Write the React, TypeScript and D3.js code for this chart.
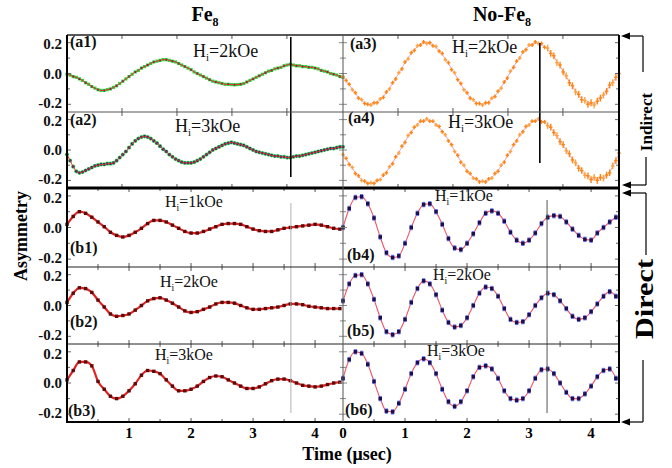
import React from "react";
import * as d3 from "d3";

// ---------- data ----------
const aTimes = d3.range(90).map((i) => i * 0.0564); // µs, indirect panels
const bTimes = d3.range(45).map((i) => i * 0.1); // µs, direct panels

const a1Fe8 = [
  -0.005, -0.01, -0.02, -0.025, -0.035, -0.045, -0.06, -0.07, -0.085, -0.095,
  -0.105, -0.11, -0.11, -0.105, -0.1, -0.09, -0.08, -0.065, -0.05, -0.035,
  -0.02, -0.005, 0.01, 0.02, 0.035, 0.045, 0.055, 0.065, 0.075, 0.08,
  0.085, 0.09, 0.09, 0.085, 0.08, 0.075, 0.065, 0.055, 0.045, 0.035,
  0.025, 0.01, 0.0, -0.01, -0.02, -0.03, -0.04, -0.05, -0.055, -0.06,
  -0.065, -0.07, -0.07, -0.072, -0.073, -0.072, -0.07, -0.065, -0.055, -0.045,
  -0.035, -0.025, -0.015, -0.005, 0.005, 0.015, 0.02, 0.03, 0.035, 0.04,
  0.05, 0.055, 0.06, 0.055, 0.05, 0.05, 0.045, 0.045, 0.04, 0.04,
  0.035, 0.03, 0.02, 0.015, 0.01, 0.0, -0.005, -0.01, -0.02, -0.025,
];
const a2Fe8 = [
  -0.03, -0.07, -0.11, -0.14, -0.15, -0.145, -0.135, -0.125, -0.115, -0.105,
  -0.1, -0.095, -0.095, -0.09, -0.09, -0.085, -0.07, -0.05, -0.03, -0.01,
  0.015, 0.04, 0.06, 0.075, 0.085, 0.09, 0.085, 0.075, 0.06, 0.045,
  0.025, 0.005, -0.01, -0.03, -0.045, -0.06, -0.07, -0.08, -0.085, -0.085,
  -0.085, -0.08, -0.07, -0.06, -0.045, -0.03, -0.015, 0.0, 0.01, 0.02,
  0.03, 0.04, 0.045, 0.05, 0.045, 0.04, 0.035, 0.03, 0.02, 0.01,
  0.0, -0.01, -0.015, -0.02, -0.025, -0.03, -0.035, -0.04, -0.04, -0.045,
  -0.045, -0.05, -0.05, -0.045, -0.04, -0.04, -0.035, -0.03, -0.025, -0.02,
  -0.015, -0.01, -0.005, 0.0, 0.005, 0.01, 0.01, 0.015, 0.02, 0.02,
];
const a3NoFe8 = [
  -0.02, -0.045, -0.07, -0.105, -0.125, -0.16, -0.17, -0.195, -0.2, -0.205,
  -0.19, -0.19, -0.165, -0.155, -0.12, -0.1, -0.06, -0.035, 0.005, 0.03,
  0.075, 0.095, 0.135, 0.15, 0.18, 0.185, 0.205, 0.195, 0.2, 0.18,
  0.175, 0.145, 0.13, 0.09, 0.07, 0.025, 0.005, -0.04, -0.065, -0.105,
  -0.125, -0.16, -0.17, -0.195, -0.195, -0.205, -0.19, -0.19, -0.16, -0.15,
  -0.115, -0.095, -0.055, -0.03, 0.015, 0.04, 0.08, 0.1, 0.14, 0.155,
  0.185, 0.185, 0.205, 0.195, 0.195, 0.17, 0.165, 0.13, 0.115, 0.07,
  0.055, 0.01, -0.015, -0.06, -0.08, -0.12, -0.135, -0.17, -0.175, -0.2,
  -0.19, -0.205, -0.18, -0.16, -0.14, -0.115, -0.075, -0.06, -0.025, 0.0,
];
const a4NoFe8 = [
  -0.03, -0.055, -0.095, -0.115, -0.155, -0.17, -0.2, -0.205, -0.22, -0.215,
  -0.22, -0.2, -0.195, -0.165, -0.15, -0.11, -0.09, -0.045, -0.02, 0.025,
  0.05, 0.095, 0.115, 0.15, 0.165, 0.19, 0.19, 0.205, 0.19, 0.19,
  0.165, 0.155, 0.12, 0.1, 0.06, 0.035, -0.01, -0.035, -0.08, -0.1,
  -0.14, -0.155, -0.185, -0.19, -0.21, -0.205, -0.21, -0.19, -0.185, -0.155,
  -0.14, -0.1, -0.08, -0.035, -0.01, 0.035, 0.06, 0.1, 0.12, 0.155,
  0.165, 0.19, 0.19, 0.205, 0.185, 0.185, 0.16, 0.15, 0.115, 0.095,
  0.055, 0.035, -0.005, -0.025, -0.065, -0.085, -0.12, -0.135, -0.165, -0.17,
  -0.195, -0.18, -0.2, -0.18, -0.185, -0.165, -0.15, -0.105, -0.07, -0.02,
];
const b1Fe8 = [
  0.02, 0.07, 0.1, 0.09, 0.065, 0.035, 0.005, -0.03, -0.05, -0.06,
  -0.05, -0.03, -0.005, 0.025, 0.045, 0.045, 0.035, 0.015, -0.005, -0.025,
  -0.035, -0.035, -0.025, -0.01, 0.005, 0.02, 0.025, 0.025, 0.02, 0.005,
  -0.01, -0.02, -0.025, -0.025, -0.015, -0.005, 0.0, 0.005, 0.01, 0.015,
  0.02, 0.015, 0.005, -0.005, -0.01,
];
const b2Fe8 = [
  0.02, 0.08, 0.115, 0.11, 0.085, 0.035, -0.01, -0.055, -0.07, -0.065,
  -0.055, -0.03, 0.0, 0.03, 0.045, 0.05, 0.035, 0.015, -0.01, -0.035,
  -0.045, -0.04, -0.025, -0.01, 0.01, 0.02, 0.02, 0.015, 0.0, -0.015,
  -0.025, -0.025, -0.02, -0.015, -0.01, 0.0, 0.01, 0.01, 0.005, -0.005,
  -0.01, -0.015, -0.02, -0.02, -0.02,
];
const b3Fe8 = [
  0.02, 0.08, 0.135, 0.135, 0.11, 0.01, -0.04, -0.085, -0.1, -0.085,
  -0.05, -0.005, 0.05, 0.08, 0.075, 0.06, 0.02, -0.02, -0.05, -0.05,
  -0.04, -0.02, 0.01, 0.035, 0.045, 0.04, 0.02, 0.0, -0.02, -0.035,
  -0.035, -0.025, -0.005, 0.015, 0.025, 0.025, 0.015, 0.0, -0.015, -0.02,
  -0.025, -0.02, -0.01, 0.0, 0.005,
];
const b4NoFe8 = [
  0.0, 0.12, 0.19, 0.195, 0.15, 0.06, -0.06, -0.16, -0.19, -0.18,
  -0.1, 0.0, 0.09, 0.145, 0.15, 0.1, 0.02, -0.07, -0.13, -0.14,
  -0.1, -0.04, 0.03, 0.09, 0.105, 0.09, 0.04, -0.03, -0.08, -0.1,
  -0.08, -0.035, 0.025, 0.065, 0.075, 0.07, 0.035, -0.01, -0.05, -0.075,
  -0.08, -0.035, 0.0, 0.035, 0.065,
];
const b5NoFe8 = [
  0.03, 0.14, 0.195, 0.2, 0.14, 0.04, -0.08, -0.17, -0.19, -0.17,
  -0.09, 0.02, 0.11, 0.16, 0.14, 0.07, -0.03, -0.11, -0.14, -0.13,
  -0.08, 0.0, 0.08, 0.12, 0.11, 0.06, -0.02, -0.09, -0.11, -0.105,
  -0.06, 0.0, 0.05, 0.08, 0.07, 0.03, -0.02, -0.07, -0.09, -0.08,
  -0.04, 0.01, 0.06, 0.09, 0.06,
];
const b6NoFe8 = [
  0.03, 0.15, 0.2, 0.19, 0.12, 0.01, -0.1, -0.18, -0.185, -0.13,
  -0.04, 0.06, 0.13, 0.155, 0.13, 0.06, -0.04, -0.12, -0.15, -0.12,
  -0.05, 0.04, 0.1, 0.11, 0.09, 0.03, -0.05, -0.1, -0.11, -0.1,
  -0.05, 0.03, 0.085, 0.09, 0.06, 0.0, -0.06, -0.1, -0.1, -0.07,
  -0.02, 0.04, 0.08, 0.09, 0.03,
];

const panelIds = ["(a1)", "(a2)", "(a3)", "(a4)", "(b1)", "(b2)", "(b3)", "(b4)", "(b5)", "(b6)"];
const fieldValues = ["2kOe", "3kOe", "2kOe", "3kOe", "1kOe", "2kOe", "3kOe", "1kOe", "2kOe", "3kOe"];
const yTickValues = [0.2, 0.0, -0.2];
const yTickLabels = ["0.2", "0.0", "-0.2"];
const xLabelsLeft = [1, 2, 3, 4];
const xLabelsRight = [0, 1, 2, 3, 4];
const aMajorTicks = [1, 2, 3, 4];
const bTicks = [0.5, 1, 1.5, 2, 2.5, 3, 3.5, 4];
const yMinorTicks = [-0.2, -0.1, 0, 0.1, 0.2];
const cursorTimes = { aLeft: 4.07, aRight: 3.58, bLeft: 3.61, bRight: 3.29 };

// ---------- layout ----------
const W = 672;
const H = 468;
const L0 = 67;
const MID = 343;
const R1 = 619;
const rowsY: [number, number][] = [
  [35, 112],
  [112, 188],
  [188, 267],
  [267, 344],
  [344, 422],
];
const FONT = "'Liberation Serif', 'Times New Roman', serif";

const xAL = d3.scaleLinear().domain([0, 5.02]).range([L0, MID]);
const xAR = d3.scaleLinear().domain([0, 5.02]).range([MID, R1]);
const xBL = d3.scaleLinear().domain([0, 4.45]).range([L0, MID]);
const xBR = d3.scaleLinear().domain([0, 4.45]).range([MID, R1]);
const yRow = (r: number) =>
  d3.scaleLinear().domain([-0.25, 0.25]).range([rowsY[r][1], rowsY[r][0]]);

type Kind = "green1" | "green2" | "orange" | "red" | "navy";
interface PanelDef {
  row: number;
  xs: d3.ScaleLinear<number, number>;
  times: number[];
  values: number[];
  kind: Kind;
  idPos: [number, number];
  fieldPos: [number, number];
  fieldSize: number;
}

const panels: PanelDef[] = [
  { row: 0, xs: xAL, times: aTimes, values: a1Fe8, kind: "green1", idPos: [70, 47], fieldPos: [193, 57], fieldSize: 18 },
  { row: 1, xs: xAL, times: aTimes, values: a2Fe8, kind: "green2", idPos: [70, 125], fieldPos: [175, 132], fieldSize: 18 },
  { row: 0, xs: xAR, times: aTimes, values: a3NoFe8, kind: "orange", idPos: [350, 49], fieldPos: [452, 53], fieldSize: 18 },
  { row: 1, xs: xAR, times: aTimes, values: a4NoFe8, kind: "orange", idPos: [348, 123], fieldPos: [448, 128], fieldSize: 18 },
  { row: 2, xs: xBL, times: bTimes, values: b1Fe8, kind: "red", idPos: [70, 253], fieldPos: [165, 207], fieldSize: 16 },
  { row: 3, xs: xBL, times: bTimes, values: b2Fe8, kind: "red", idPos: [70, 327], fieldPos: [160, 287], fieldSize: 16 },
  { row: 4, xs: xBL, times: bTimes, values: b3Fe8, kind: "red", idPos: [68, 416], fieldPos: [155, 360], fieldSize: 16 },
  { row: 2, xs: xBR, times: bTimes, values: b4NoFe8, kind: "navy", idPos: [347, 260], fieldPos: [435, 201], fieldSize: 16 },
  { row: 3, xs: xBR, times: bTimes, values: b5NoFe8, kind: "navy", idPos: [347, 336], fieldPos: [433, 280], fieldSize: 16 },
  { row: 4, xs: xBR, times: bTimes, values: b6NoFe8, kind: "navy", idPos: [345, 415], fieldPos: [427, 356], fieldSize: 16 },
];

function Panel({ p, idx }: { p: PanelDef; idx: number }) {
  const ys = yRow(p.row);
  const line = d3
    .line<number>()
    .x((_, i) => p.xs(p.times[i]))
    .y((d) => ys(d))
    .curve(p.kind === "orange" ? d3.curveBasis : d3.curveMonotoneX);
  const path = line(p.values) || "";
  const marks = p.values.map((v, i) => {
    const x = p.xs(p.times[i]);
    const y = ys(v);
    if (p.kind === "green1") {
      return (
        <g key={i}>
          <rect x={x - 1.6} y={y - 1.6} width={3.2} height={3.2} fill="#33d43f" />
          {i % 2 === 0 && <circle cx={x} cy={y} r={1} fill="#1b2470" />}
        </g>
      );
    }
    if (p.kind === "green2") {
      return (
        <g key={i}>
          <circle cx={x} cy={y} r={2.1} fill="#45d24e" />
          <circle cx={x} cy={y} r={1.4} fill="#1d2a86" />
        </g>
      );
    }
    if (p.kind === "orange") {
      const e = i > 65 ? 0.022 : 0.013;
      return (
        <g key={i} stroke={i % 3 === 0 ? "#ffa040" : "#ff8413"} strokeWidth={1.4}>
          <line x1={x} x2={x} y1={ys(v + e)} y2={ys(v - e)} />
          <line x1={x - 1.8} x2={x + 1.8} y1={y} y2={y} />
        </g>
      );
    }
    if (p.kind === "red") {
      return <rect key={i} x={x - 1.7} y={y - 1.7} width={3.4} height={3.4} fill="#5e0808" />;
    }
    const e = 0.014;
    return (
      <g key={i}>
        <line x1={x} x2={x} y1={ys(v + e)} y2={ys(v - e)} stroke="#6c78ff" strokeWidth={1.2} />
        <line x1={x - 1.6} x2={x + 1.6} y1={ys(v + e)} y2={ys(v + e)} stroke="#6c78ff" strokeWidth={1} />
        <line x1={x - 1.6} x2={x + 1.6} y1={ys(v - e)} y2={ys(v - e)} stroke="#6c78ff" strokeWidth={1} />
        <rect x={x - 1.8} y={y - 1.8} width={3.6} height={3.6} fill="#1a0f52" />
      </g>
    );
  });

  const lineEl =
    p.kind === "green1" || p.kind === "green2" ? (
      <path d={path} fill="none" stroke="#e52a2a" strokeWidth={1} />
    ) : p.kind === "orange" ? (
      <path d={path} fill="none" stroke="#f2a0b8" strokeWidth={1} />
    ) : p.kind === "red" ? (
      <path d={path} fill="none" stroke="#e02424" strokeWidth={2.2} />
    ) : (
      <path d={path} fill="none" stroke="#ee5466" strokeWidth={1.1} />
    );

  const onTop = p.kind === "green1" || p.kind === "green2";
  return (
    <g>
      {!onTop && lineEl}
      {marks}
      {onTop && lineEl}
      <text x={p.idPos[0]} y={p.idPos[1]} fontFamily={FONT} fontWeight="bold" fontSize={16} fill="#111">
        {panelIds[idx]}
      </text>
      <text x={p.fieldPos[0]} y={p.fieldPos[1]} fontFamily={FONT} fontSize={p.fieldSize} fill="#111">
        H
        <tspan dy={4} fontSize={p.fieldSize * 0.6}>
          i
        </tspan>
        <tspan dy={-4}>={fieldValues[idx]}</tspan>
      </text>
    </g>
  );
}

function Arrow({ x, y }: { x: number; y: number }) {
  return <polygon points={`${x},${y} ${x + 9},${y - 3.5} ${x + 9},${y + 3.5}`} fill="#000" />;
}

export default function App() {
  const ticks: JSX.Element[] = [];
  // y ticks
  rowsY.forEach((_, r) => {
    const ys = yRow(r);
    yMinorTicks.forEach((v, j) => {
      const y = ys(v);
      const len = v === 0 || Math.abs(v) === 0.2 ? 4 : 3;
      ticks.push(<line key={`yl${r}${j}`} x1={L0} x2={L0 + len} y1={y} y2={y} stroke="#666" />);
      ticks.push(<line key={`ym${r}${j}`} x1={MID - len} x2={MID + len} y1={y} y2={y} stroke="#888" />);
      ticks.push(<line key={`yr${r}${j}`} x1={R1 - len} x2={R1} y1={y} y2={y} stroke="#666" />);
    });
  });
  // x ticks
  [0, 1].forEach((r) => {
    const [t, b] = rowsY[r];
    aMajorTicks.forEach((v, j) => {
      [xAL(v), xAR(v)].forEach((x, s) => {
        ticks.push(<line key={`xa${r}${j}${s}t`} x1={x} x2={x} y1={t} y2={t + 4} stroke="#555" />);
        ticks.push(<line key={`xa${r}${j}${s}b`} x1={x} x2={x} y1={b - 4} y2={b} stroke="#555" />);
      });
    });
  });
  [2, 3, 4].forEach((r) => {
    const [t, b] = rowsY[r];
    bTicks.forEach((v, j) => {
      const len = Number.isInteger(v) ? 4 : 3;
      [xBL(v), xBR(v)].forEach((x, s) => {
        ticks.push(<line key={`xb${r}${j}${s}t`} x1={x} x2={x} y1={t} y2={t + len} stroke="#555" />);
        ticks.push(<line key={`xb${r}${j}${s}b`} x1={x} x2={x} y1={b - len} y2={b} stroke="#555" />);
      });
    });
  });

  return (
    <svg
      width={W}
      height={H}
      viewBox={`0 0 ${W} ${H}`}
      style={{ position: "absolute", left: 0, top: 0, background: "#fff" }}
    >
      <rect x={0} y={0} width={W} height={H} fill="#fff" />

      {/* titles */}
      <text x={205} y={21} textAnchor="middle" fontFamily={FONT} fontWeight="bold" fontSize={20}>
        Fe<tspan dy={5} fontSize={12}>8</tspan>
      </text>
      <text x={502} y={21} textAnchor="middle" fontFamily={FONT} fontWeight="bold" fontSize={20}>
        No-Fe<tspan dy={5} fontSize={12}>8</tspan>
      </text>

      {/* data */}
      {panels.map((p, i) => (
        <Panel key={i} p={p} idx={i} />
      ))}

      {/* cursor lines */}
      <line x1={xAL(cursorTimes.aLeft)} x2={xAL(cursorTimes.aLeft)} y1={37} y2={177} stroke="#000" strokeWidth={1.6} />
      <line x1={xAR(cursorTimes.aRight)} x2={xAR(cursorTimes.aRight)} y1={43} y2={163} stroke="#000" strokeWidth={1.6} />
      <line x1={xBL(cursorTimes.bLeft)} x2={xBL(cursorTimes.bLeft)} y1={203} y2={413} stroke="#b0b0b0" strokeWidth={1} />
      <line x1={xBR(cursorTimes.bRight)} x2={xBR(cursorTimes.bRight)} y1={200} y2={413} stroke="#555" strokeWidth={1} />

      {/* ticks */}
      {ticks}

      {/* frame */}
      <line x1={L0} x2={R1} y1={35} y2={35} stroke="#222" strokeWidth={1.5} />
      <line x1={L0} x2={R1} y1={112} y2={112} stroke="#555" strokeWidth={1} />
      <line x1={L0} x2={R1} y1={188} y2={188} stroke="#000" strokeWidth={3} />
      <line x1={L0} x2={R1} y1={267} y2={267} stroke="#222" strokeWidth={1} />
      <line x1={L0} x2={R1} y1={344} y2={344} stroke="#222" strokeWidth={1} />
      <line x1={L0} x2={R1} y1={422} y2={422} stroke="#000" strokeWidth={2} />
      <line x1={L0} x2={L0} y1={35} y2={423} stroke="#000" strokeWidth={2} />
      <line x1={MID} x2={MID} y1={35} y2={422} stroke="#555" strokeWidth={1} />
      <line x1={R1} x2={R1} y1={35} y2={423} stroke="#000" strokeWidth={2} />

      {/* y tick labels */}
      {rowsY.map((_, r) =>
        yTickValues.map((v, j) => (
          <text
            key={`yt${r}${j}`}
            x={62}
            y={yRow(r)(v) + (v > 0 ? 1.5 : v < 0 ? -1.5 : 0)}
            dy="0.35em"
            textAnchor="end"
            fontFamily={FONT}
            fontWeight="bold"
            fontSize={15}
            fill="#111"
          >
            {yTickLabels[j]}
          </text>
        ))
      )}

      {/* x tick labels */}
      {xLabelsLeft.map((v) => (
        <text key={`xl${v}`} x={xBL(v)} y={438} textAnchor="middle" fontFamily={FONT} fontWeight="bold" fontSize={15}>
          {v}
        </text>
      ))}
      {xLabelsRight.map((v) => (
        <text key={`xr${v}`} x={xBR(v)} y={438} textAnchor="middle" fontFamily={FONT} fontWeight="bold" fontSize={15}>
          {v}
        </text>
      ))}

      {/* axis titles */}
      <text x={347} y={460} textAnchor="middle" fontFamily={FONT} fontWeight="bold" fontSize={18}>
        Time (μsec)
      </text>
      <text
        transform="translate(27,236) rotate(-90)"
        textAnchor="middle"
        fontFamily={FONT}
        fontWeight="bold"
        fontSize={18}
      >
        Asymmetry
      </text>

      {/* right-side brackets */}
      <g stroke="#000" strokeWidth={1.2} fill="none">
        <line x1={643} x2={628} y1={36} y2={36} />
        <line x1={643} x2={643} y1={36} y2={72} />
        <line x1={646} x2={646} y1={157} y2={185} />
        <line x1={646} x2={629} y1={185} y2={185} />
        <line x1={646} x2={629} y1={193} y2={193} />
        <line x1={646} x2={646} y1={193} y2={255} />
        <line x1={643} x2={643} y1={360} y2={422} />
        <line x1={643} x2={628} y1={422} y2={422} />
      </g>
      <Arrow x={621} y={36} />
      <Arrow x={622} y={185} />
      <Arrow x={622} y={193} />
      <Arrow x={621} y={422} />
      <text
        transform="translate(652,122) rotate(-90)"
        textAnchor="middle"
        fontFamily={FONT}
        fontWeight="bold"
        fontSize={17}
      >
        Indirect
      </text>
      <text
        transform="translate(653,299) rotate(-90)"
        textAnchor="middle"
        fontFamily={FONT}
        fontWeight="bold"
        fontSize={25}
        textLength={80}
        lengthAdjust="spacingAndGlyphs"
      >
        Direct
      </text>
    </svg>
  );
}
